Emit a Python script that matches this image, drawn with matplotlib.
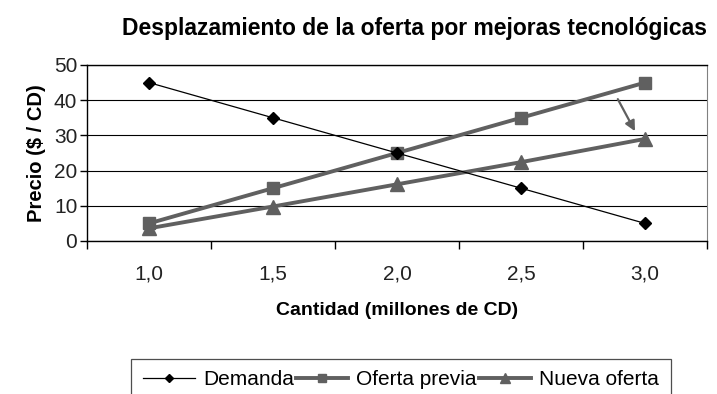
import matplotlib
matplotlib.use("Agg")
import matplotlib.pyplot as plt

# --- DATA ---
cantidades = ["1,0", "1,5", "2,0", "2,5", "3,0"]
demanda = [45, 35, 25, 15, 5]
oferta_previa = [5, 15, 25, 35, 45]
nueva_oferta = [3.6, 9.8, 16.1, 22.4, 29.0]

plt.rcParams['font.family'] = ['Liberation Sans', 'DejaVu Sans']

fig = plt.figure(figsize=(7.17, 3.94), dpi=100)
ax = fig.add_axes([87 / 717, 1 - 241 / 394, 620 / 717, 176 / 394])

x = list(range(len(cantidades)))
gris = "#606060"

ax.plot(x, demanda, color="black", lw=0.9, marker="D", ms=6.5, label="Demanda", zorder=4)
ax.plot(x, oferta_previa, color=gris, lw=2.8, marker="s", ms=8.5, label="Oferta previa", zorder=3)
ax.plot(x, nueva_oferta, color=gris, lw=2.8, marker="^", ms=9.5, label="Nueva oferta", zorder=3)

# arrow showing the shift of supply
ax.annotate("", xy=(3.93, 30.5), xytext=(3.77, 41),
            arrowprops=dict(arrowstyle="-|>", color=gris, lw=1.6, mutation_scale=15))

ax.set_xlim(-0.5, len(cantidades) - 0.5)
ax.set_ylim(0, 50)
ax.set_yticks(range(0, 51, 10))
ax.set_xticks(x)
ax.set_xticklabels(cantidades)
ax.set_xticks([i - 0.5 for i in range(len(cantidades) + 1)], minor=True)
ax.tick_params(axis="x", which="major", length=0, labelsize=15, pad=17)
ax.tick_params(axis="x", which="minor", length=6, width=1, direction="out")
ax.tick_params(axis="y", length=5, width=1, labelsize=15, pad=2)
ax.tick_params(axis="both", colors="black", labelcolor="#222222")

ax.grid(axis="y", color="black", lw=0.8)
ax.set_axisbelow(True)
for side in ["left", "bottom", "top"]:
    ax.spines[side].set_color("black")
    ax.spines[side].set_linewidth(1)
ax.spines["right"].set_color("#808080")

ax.set_ylabel("Precio ($ / CD)", fontsize=14.5, fontweight="bold", labelpad=6)
ax.set_xlabel("Cantidad (millones de CD)", fontsize=14, fontweight="bold", labelpad=13)
fig.text(415 / 717, 1 - 28 / 394, "Desplazamiento de la oferta por mejoras tecnológicas",
         ha="center", va="center", fontsize=16.5, fontweight="bold")

# legend box runs off the bottom edge, as in the original
leg = fig.legend(loc="upper center", bbox_to_anchor=(401 / 717, 1 - 359 / 394), ncol=3,
                 fontsize=15, frameon=True, fancybox=False, edgecolor="#222222",
                 handlelength=2.5, handletextpad=0.4, columnspacing=0.1, borderpad=0.55,
                 borderaxespad=0, markerscale=0.7)
leg.get_frame().set_linewidth(0.9)

fig.savefig("out.png", dpi=100, facecolor="white")
